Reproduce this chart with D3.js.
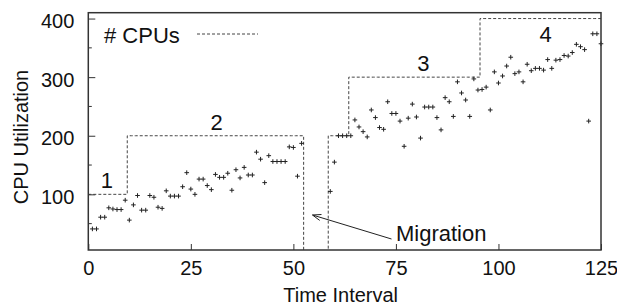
<!DOCTYPE html>
<html><head><meta charset="utf-8">
<script src="https://cdn.jsdelivr.net/npm/d3@7"></script>
<style>
html,body{margin:0;padding:0;background:#fff;}
text{font-family:"Liberation Sans",Arial,Helvetica,sans-serif;fill:#111;}
</style></head>
<body><svg id="c" width="617" height="306"></svg>
<script>
// ---- data ----
const timeIntervals = [1,2,3,4,5,6,7,8,9,10,11,12,13,14,15,16,17,18,19,20,21,22,23,24,25,26,27,28,29,30,31,32,33,34,35,36,37,38,39,40,41,42,43,44,45,46,47,48,49,50,51,52,
  59,60,61,62,63,64,65,66,67,68,69,70,71,72,73,74,75,76,77,78,79,80,81,82,83,84,85,86,87,88,89,90,91,92,93,94,95,96,97,98,99,100,101,102,103,104,105,106,107,108,109,110,111,112,113,114,115,116,117,118,119,120,121,122,123,124,125];
const cpuUtilization = [41,41,61,61,77,75,74,74,90,56,82,98,73,73,98,95,78,76,106,97,97,97,113,137,109,100,126,126,115,108,134,129,129,136,107,142,128,146,133,133,172,160,120,166,156,156,156,156,181,180,131,187,
  105,155,200,200,200,200,227,215,207,198,244,231,214,211,258,238,238,225,182,230,254,232,196,249,249,249,231,210,265,258,233,292,273,261,233,297,278,279,283,244,309,290,302,319,334,306,309,292,322,311,315,315,312,330,315,329,330,337,336,342,356,352,347,225,374,374,357];
// number of CPUs: value from each start interval onward
const cpuStart = [0, 10, 53, 59, 64, 96];
const cpuCount = [1, 2, 0, 2, 3, 4];
const cpuLabels = ["1","2","3","4"];
const cpuLabelAt = [4.5, 31.3, 81.7, 111.5];
const xTicks = [0,25,50,75,100,125];
const yTicks = [100,200,300,400];
const yMinorTicks = [50,150,250,350];

// ---- layout ----
const svg = d3.select("#c");
const L = 88.3, R = 601, T = 12.7, B = 250;
const x = d3.scaleLinear().domain([0,125]).range([L,R]);
const y = d3.scaleLinear().domain([5,410]).range([B,T]);

svg.append("defs").append("clipPath").attr("id","clip")
  .append("rect").attr("x",L).attr("y",T).attr("width",R-L).attr("height",B-T);

// CPU step line
const cpuSeries = [];
for (let t = 0; t <= 125; t++) {
  let c = cpuCount[0];
  for (let i = 0; i < cpuStart.length; i++) if (t >= cpuStart[i]) c = cpuCount[i];
  cpuSeries.push({t, v: c*100});
}
const stepLine = d3.line().x(d=>x(d.t)).y(d=>y(d.v)).curve(d3.curveStep);
svg.append("path").attr("clip-path","url(#clip)")
  .attr("d", stepLine(cpuSeries))
  .attr("fill","none").attr("stroke","#444").attr("stroke-width",1)
  .attr("stroke-dasharray","3,2");

// CPU count labels
const labelOffset = [-6,-6,-6,23];
svg.selectAll(".cl").data(cpuLabels).enter().append("text")
  .attr("x",(d,i)=>x(cpuLabelAt[i]))
  .attr("y",(d,i)=>y((i+1)*100)+labelOffset[i])
  .attr("text-anchor","middle").attr("font-size",22).text(d=>d);

// points
const pts = timeIntervals.map((t,i)=>({t, v: cpuUtilization[i]}));
svg.append("g").selectAll("path").data(pts).enter().append("path")
  .attr("transform",d=>`translate(${x(d.t)},${y(d.v)})`)
  .attr("d","M-2.3,0H2.3M0,-2.3V2.3")
  .attr("stroke","#222").attr("stroke-width",1);

// frame
svg.append("rect").attr("x",L).attr("y",T).attr("width",R-L).attr("height",B-T)
  .attr("fill","none").attr("stroke","#333").attr("stroke-width",1.5);

// y ticks (inside)
const yAxis = d3.axisLeft(y).tickValues(yTicks).tickSize(-7).tickPadding(14).tickFormat(d3.format("d"));
const gy = svg.append("g").attr("transform",`translate(${L},0)`).call(yAxis);
gy.select(".domain").remove();
gy.selectAll("line").attr("stroke","#333");
gy.selectAll("text").attr("font-size",20).attr("font-family","Liberation Sans, Arial, sans-serif").attr("fill","#111").attr("dy","0.45em");
svg.append("g").selectAll("line").data(yMinorTicks).enter().append("line")
  .attr("x1",L).attr("x2",L+3.5).attr("y1",d=>y(d)).attr("y2",d=>y(d)).attr("stroke","#333");

// x ticks (inside)
const xAxis = d3.axisBottom(x).tickValues(xTicks).tickSize(-6).tickPadding(14).tickFormat(d3.format("d"));
const gx = svg.append("g").attr("transform",`translate(0,${B})`).call(xAxis);
gx.select(".domain").remove();
gx.selectAll("line").attr("stroke","#333");
gx.selectAll("text").attr("font-size",20).attr("font-family","Liberation Sans, Arial, sans-serif").attr("fill","#111").attr("dy","0.55em");

// axis titles
svg.append("text").attr("x",(L+R)/2-4).attr("y",302).attr("text-anchor","middle")
  .attr("font-size",20).text("Time Interval");
svg.append("text").attr("transform","translate(28,137) rotate(-90)").attr("text-anchor","middle")
  .attr("font-size",20).text("CPU Utilization");

// legend
svg.append("text").attr("x",104).attr("y",42.5).attr("font-size",22).text("# CPUs");
svg.append("line").attr("x1",197).attr("x2",258).attr("y1",34).attr("y2",34)
  .attr("stroke","#444").attr("stroke-dasharray","3,2");

// migration annotation
svg.append("text").attr("x",396).attr("y",240.5).attr("font-size",22).text("Migration");
const tip = [312.5,215], tail = [391.5,239];
svg.append("line").attr("x1",tail[0]).attr("y1",tail[1]).attr("x2",tip[0]).attr("y2",tip[1])
  .attr("stroke","#222").attr("stroke-width",1);
const ang = Math.atan2(tail[1]-tip[1], tail[0]-tip[0]);
const hl = 9, ha = 0.35;
svg.append("path")
  .attr("d",`M${tip[0]+hl*Math.cos(ang+ha)},${tip[1]+hl*Math.sin(ang+ha)}L${tip[0]},${tip[1]}L${tip[0]+hl*Math.cos(ang-ha)},${tip[1]+hl*Math.sin(ang-ha)}`)
  .attr("fill","none").attr("stroke","#222").attr("stroke-width",1);
</script></body></html>
